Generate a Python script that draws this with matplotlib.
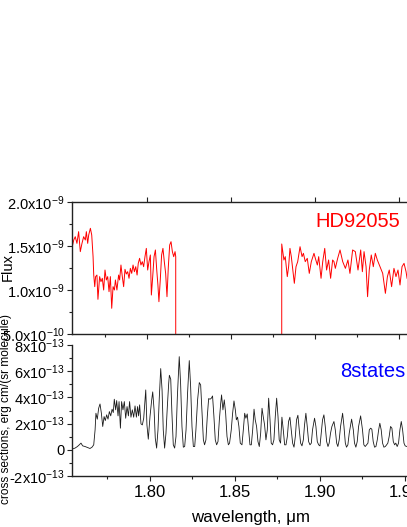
import numpy as np
import matplotlib
matplotlib.use("Agg")
import matplotlib.pyplot as plt
from matplotlib.ticker import MultipleLocator, FixedLocator

plt.rcParams['font.family'] = ['Liberation Sans', 'DejaVu Sans']
plt.rcParams['mathtext.fontset'] = 'custom'
plt.rcParams['mathtext.rm'] = 'Liberation Sans'
plt.rcParams['mathtext.it'] = 'Liberation Sans:italic'
plt.rcParams['mathtext.bf'] = 'Liberation Sans:bold'
plt.rcParams['mathtext.default'] = 'regular'

# ---------------- data ----------------
# HD92055 observed flux (units of 1e-9); zero inside the telluric gap
flux_wl = [
    1.7556, 1.7564, 1.7573, 1.7583, 1.7593, 1.7603, 1.7613, 1.7623, 1.7633, 1.7639,
    1.7647, 1.7653, 1.7663, 1.7671, 1.7679, 1.7683, 1.7689, 1.7694, 1.7702, 1.7708,
    1.7718, 1.7726, 1.7734, 1.7742, 1.7750, 1.7758, 1.7766, 1.7774, 1.7782, 1.7790,
    1.7798, 1.7806, 1.7812, 1.7821, 1.7831, 1.7837, 1.7845, 1.7853, 1.7861, 1.7869,
    1.7877, 1.7885, 1.7893, 1.7901, 1.7909, 1.7917, 1.7925, 1.7933, 1.7941, 1.7948,
    1.7956, 1.7964, 1.7972, 1.7980, 1.7988, 1.7996, 1.8004, 1.8012, 1.8020, 1.8026,
    1.8034, 1.8042, 1.8050, 1.8058, 1.8065, 1.8071, 1.8079, 1.8087, 1.8095, 1.8103,
    1.8111, 1.8119, 1.8127, 1.8135, 1.8143, 1.8151, 1.8159, 1.8167, 1.8171, 1.8171,
    1.8802, 1.8802, 1.8815, 1.8823, 1.8835, 1.8843, 1.8851, 1.8859, 1.8877, 1.8887,
    1.8897, 1.8911, 1.8923, 1.8931, 1.8942, 1.8954, 1.8966, 1.8978, 1.8994, 1.9002,
    1.9014, 1.9022, 1.9036, 1.9046, 1.9058, 1.9069, 1.9081, 1.9093, 1.9105, 1.9113,
    1.9121, 1.9135, 1.9149, 1.9165, 1.9181, 1.9196, 1.9208, 1.9224, 1.9240, 1.9256,
    1.9272, 1.9282, 1.9292, 1.9304, 1.9313, 1.9323, 1.9335, 1.9347, 1.9359, 1.9371,
    1.9387, 1.9403, 1.9419, 1.9431, 1.9442, 1.9456, 1.9470, 1.9482, 1.9494, 1.9506,
    1.9518, 1.9530, 1.9542, 1.9548,
]
flux_val = [
    1.500, 1.568, 1.606, 1.530, 1.663, 1.436, 1.530, 1.606, 1.568, 1.663,
    1.530, 1.625, 1.701, 1.625, 1.379, 1.170, 1.038, 1.152, 1.170, 0.894,
    1.152, 1.095, 1.133, 1.000, 1.227, 1.114, 1.152, 0.981, 1.152, 0.792,
    1.038, 1.000, 1.114, 1.000, 1.170, 1.114, 1.284, 1.152, 1.038, 1.235,
    1.182, 1.208, 1.133, 1.246, 1.189, 1.284, 1.208, 1.265, 1.170, 1.303,
    1.360, 1.284, 1.322, 1.265, 1.379, 1.473, 1.227, 1.322, 1.398, 0.943,
    1.152, 1.379, 1.455, 1.227, 1.057, 0.867, 1.114, 1.398, 1.473, 1.322,
    1.189, 0.924, 1.265, 1.511, 1.549, 1.436, 1.379, 1.436, 1.379, 0.000,
    0.000, 1.523, 1.341, 1.379, 1.152, 1.265, 1.473, 1.379, 1.076, 1.265,
    1.322, 1.492, 1.379, 1.417, 1.322, 1.360, 1.189, 1.322, 1.417, 1.360,
    1.284, 1.379, 1.133, 1.322, 1.473, 1.227, 1.341, 1.133, 1.341, 1.322,
    1.246, 1.360, 1.455, 1.322, 1.246, 1.341, 1.189, 1.455, 1.436, 1.227,
    1.455, 1.208, 1.436, 1.265, 0.924, 1.227, 1.398, 1.265, 1.417, 1.341,
    1.265, 1.189, 0.962, 1.152, 1.227, 1.038, 1.246, 1.152, 1.227, 1.057,
    1.265, 1.303, 1.208, 1.133,
]
flux_scale = 1e-9

# "8states" model cross sections (units of 1e-13)
xs_wl = [
    1.7541, 1.7559, 1.7573, 1.7584, 1.7594, 1.7604, 1.7618, 1.7632, 1.7647, 1.7659,
    1.7669, 1.7677, 1.7682, 1.7690, 1.7698, 1.7706, 1.7714, 1.7722, 1.7730, 1.7737,
    1.7745, 1.7753, 1.7761, 1.7769, 1.7777, 1.7784, 1.7790, 1.7798, 1.7804, 1.7812,
    1.7818, 1.7826, 1.7833, 1.7841, 1.7849, 1.7857, 1.7865, 1.7873, 1.7880, 1.7888,
    1.7896, 1.7904, 1.7912, 1.7920, 1.7927, 1.7933, 1.7939, 1.7947, 1.7955, 1.7963,
    1.7975, 1.7982, 1.7990, 1.8000, 1.8010, 1.8016, 1.8024, 1.8031, 1.8039, 1.8047,
    1.8055, 1.8063, 1.8071, 1.8078, 1.8086, 1.8094, 1.8102, 1.8110, 1.8114, 1.8122,
    1.8129, 1.8137, 1.8145, 1.8153, 1.8161, 1.8172, 1.8180, 1.8188, 1.8196, 1.8204,
    1.8212, 1.8221, 1.8231, 1.8239, 1.8247, 1.8255, 1.8263, 1.8270, 1.8280, 1.8290,
    1.8298, 1.8306, 1.8314, 1.8321, 1.8329, 1.8337, 1.8345, 1.8353, 1.8361, 1.8368,
    1.8376, 1.8384, 1.8392, 1.8400, 1.8408, 1.8416, 1.8421, 1.8429, 1.8437, 1.8445,
    1.8453, 1.8461, 1.8468, 1.8478, 1.8486, 1.8494, 1.8502, 1.8508, 1.8515, 1.8523,
    1.8531, 1.8541, 1.8549, 1.8557, 1.8564, 1.8572, 1.8580, 1.8588, 1.8596, 1.8604,
    1.8612, 1.8619, 1.8627, 1.8635, 1.8643, 1.8651, 1.8659, 1.8666, 1.8674, 1.8682,
    1.8690, 1.8698, 1.8706, 1.8713, 1.8721, 1.8729, 1.8737, 1.8745, 1.8753, 1.8760,
    1.8768, 1.8776, 1.8784, 1.8792, 1.8800, 1.8808, 1.8815, 1.8823, 1.8831, 1.8839,
    1.8847, 1.8855, 1.8862, 1.8870, 1.8878, 1.8886, 1.8894, 1.8902, 1.8909, 1.8917,
    1.8925, 1.8933, 1.8941, 1.8949, 1.8956, 1.8968, 1.8976, 1.8984, 1.8992, 1.9000,
    1.9007, 1.9015, 1.9023, 1.9031, 1.9039, 1.9047, 1.9054, 1.9062, 1.9070, 1.9082,
    1.9090, 1.9098, 1.9105, 1.9113, 1.9121, 1.9133, 1.9141, 1.9149, 1.9156, 1.9164,
    1.9172, 1.9186, 1.9196, 1.9203, 1.9211, 1.9219, 1.9227, 1.9239, 1.9250, 1.9258,
    1.9266, 1.9274, 1.9282, 1.9290, 1.9298, 1.9305, 1.9313, 1.9321, 1.9329, 1.9337,
    1.9345, 1.9352, 1.9360, 1.9368, 1.9376, 1.9384, 1.9392, 1.9399, 1.9407, 1.9415,
    1.9423, 1.9431, 1.9439, 1.9446, 1.9454, 1.9462, 1.9470, 1.9478, 1.9486, 1.9494,
    1.9501, 1.9511,
]
xs_val = [
    0.05, 0.13, 0.25, 0.38, 0.51, 0.30, 0.25, 0.18, 0.10, 0.20,
    0.38, 1.52, 2.79, 2.34, 3.17, 3.50, 2.79, 1.78, 2.54, 2.23,
    2.67, 2.34, 2.92, 2.59, 3.10, 2.84, 3.86, 3.05, 3.76, 2.59,
    3.68, 1.65, 3.68, 3.05, 3.68, 2.41, 3.30, 2.59, 3.68, 2.49,
    3.05, 2.49, 3.35, 2.49, 3.30, 2.59, 3.43, 1.98, 1.90, 2.41,
    4.57, 1.90, 0.81, 2.54, 3.81, 4.42, 3.05, 0.89, 0.13, 1.52,
    4.06, 6.20, 4.57, 1.52, 0.13, 1.27, 3.30, 5.08, 5.69, 5.38,
    2.79, 0.38, 0.13, 1.02, 4.06, 7.11, 5.08, 1.78, 0.20, 0.25,
    1.52, 4.32, 6.81, 4.83, 1.78, 0.25, 0.25, 1.52, 3.81, 5.13,
    4.95, 2.79, 0.76, 0.38, 0.76, 2.54, 3.91, 3.86, 3.94, 4.11,
    2.54, 0.76, 0.38, 0.63, 2.29, 3.56, 4.19, 3.05, 3.81, 2.79,
    1.02, 0.38, 0.51, 1.52, 2.79, 3.73, 3.05, 2.29, 2.49, 1.78,
    0.51, 0.38, 1.52, 2.79, 2.41, 2.74, 1.52, 0.38, 0.38, 1.52,
    3.10, 2.29, 1.78, 0.63, 0.25, 1.27, 3.17, 2.54, 1.90, 0.76,
    1.52, 3.94, 2.29, 0.51, 0.38, 0.76, 2.54, 3.94, 2.54, 0.76,
    0.51, 2.49, 1.52, 0.38, 0.38, 1.02, 2.16, 2.49, 1.52, 0.51,
    0.20, 1.02, 2.29, 2.64, 1.52, 0.51, 0.30, 0.76, 1.90, 2.79,
    1.78, 0.63, 0.38, 0.51, 1.52, 2.41, 1.78, 0.63, 0.38, 0.30,
    1.27, 2.29, 2.67, 1.78, 0.63, 0.25, 0.51, 1.27, 1.78, 2.16,
    1.52, 0.51, 0.25, 0.76, 1.78, 2.79, 1.78, 0.51, 0.20, 0.38,
    1.27, 2.34, 1.52, 0.51, 0.20, 0.63, 1.78, 2.59, 1.52, 0.38,
    0.25, 0.38, 0.51, 1.52, 1.65, 1.57, 0.63, 0.20, 0.25, 0.76,
    1.52, 2.03, 1.52, 0.51, 0.20, 0.25, 0.38, 0.51, 1.02, 1.78,
    1.65, 0.63, 0.38, 0.51, 0.25, 0.51, 1.52, 2.16, 1.52, 0.51,
    0.30, 0.25,
]
xs_scale = 1e-13

flux_ticks = [5.0e-10, 1.0e-9, 1.5e-9, 2.0e-9]
flux_tick_labels = [r"5.0x10$^{-10}$", r"1.0x10$^{-9}$", r"1.5x10$^{-9}$", r"2.0x10$^{-9}$"]
xs_ticks = [-2e-13, 0.0, 2e-13, 4e-13, 6e-13, 8e-13]
xs_tick_labels = [r"-2x10$^{-13}$", "0", r"2x10$^{-13}$", r"4x10$^{-13}$",
                  r"6x10$^{-13}$", r"8x10$^{-13}$"]
wl_ticks = [1.80, 1.85, 1.90, 1.95]
wl_tick_labels = ["1.80", "1.85", "1.90", "1.95"]

assert len(flux_wl) == len(flux_val)
assert len(xs_wl) == len(xs_val)

# ---------------- figure ----------------
W, H = 407, 527
fig = plt.figure(figsize=(W / 100, H / 100), dpi=100)

top_xlim = (1.75536, 1.98)
bot_xlim = (1.75412, 1.98)
top_w = (top_xlim[1] - top_xlim[0]) / 0.05 * 84
bot_w = (bot_xlim[1] - bot_xlim[0]) / 0.05 * 85

ax1 = fig.add_axes([72 / W, 193 / H, top_w / W, 132 / H])
ax2 = fig.add_axes([72 / W, 51 / H, bot_w / W, 131 / H])

ax1.plot(flux_wl, np.array(flux_val) * flux_scale, color='#ff0000', lw=0.7)
ax2.plot(xs_wl, np.array(xs_val) * xs_scale, color='#1a1a1a', lw=0.6)

ax1.set_xlim(*top_xlim)
ax1.set_ylim(5.0e-10, 2.0e-9)
ax2.set_xlim(*bot_xlim)
ax2.set_ylim(-2e-13, 8e-13)

spine_w = 1.0
for ax in (ax1, ax2):
    for s in ax.spines.values():
        s.set_linewidth(spine_w)
        s.set_color('#222222')
    ax.spines['right'].set_visible(False)
    ax.tick_params(which='major', direction='out', length=3.8, width=0.8,
                   color='#222222', labelsize=10.5, pad=1.5)
    ax.tick_params(which='minor', direction='out', length=2.2, width=0.8,
                   color='#222222')
ax2.spines['top'].set_visible(False)

# top panel ticks
ax1.xaxis.set_major_locator(FixedLocator(wl_ticks))
ax1.xaxis.set_minor_locator(MultipleLocator(0.025))
ax1.tick_params(axis='x', which='major', top=True, bottom=True, labelbottom=False)
ax1.tick_params(axis='x', which='minor', top=False, bottom=True)
ax1.yaxis.set_major_locator(FixedLocator(flux_ticks))
ax1.set_yticklabels(flux_tick_labels)
ax1.yaxis.set_minor_locator(MultipleLocator(0.25e-9))

# bottom panel ticks
ax2.xaxis.set_major_locator(FixedLocator(wl_ticks))
ax2.set_xticklabels(wl_tick_labels)
ax2.xaxis.set_minor_locator(MultipleLocator(0.025))
ax2.tick_params(axis='x', which='major', labelsize=12, pad=3)
ax2.yaxis.set_major_locator(FixedLocator(xs_ticks))
ax2.set_yticklabels(xs_tick_labels)
ax2.yaxis.set_minor_locator(MultipleLocator(1e-13))

# labels
fig.text(8 / W, 1 - 267 / H, 'Flux', rotation=90, ha='center', va='center',
         fontsize=10.5)
fig.text(6 / W, 1 - 409 / H, 'cross sections, erg cm/(sr molecule)', rotation=90,
         ha='center', va='center', fontsize=8.6)
fig.text(251 / W, 1 - 522 / H, 'wavelength, \u03bcm', ha='center', va='baseline',
         fontsize=12.2)
fig.text(400 / W, 1 - 227 / H, 'HD92055', ha='right', va='baseline',
         fontsize=14.5, color='#ff0000')
fig.text(405 / W, 1 - 377 / H, '8states', ha='right', va='baseline',
         fontsize=14.5, color='#0000ff')

fig.savefig('out.png', dpi=100)
